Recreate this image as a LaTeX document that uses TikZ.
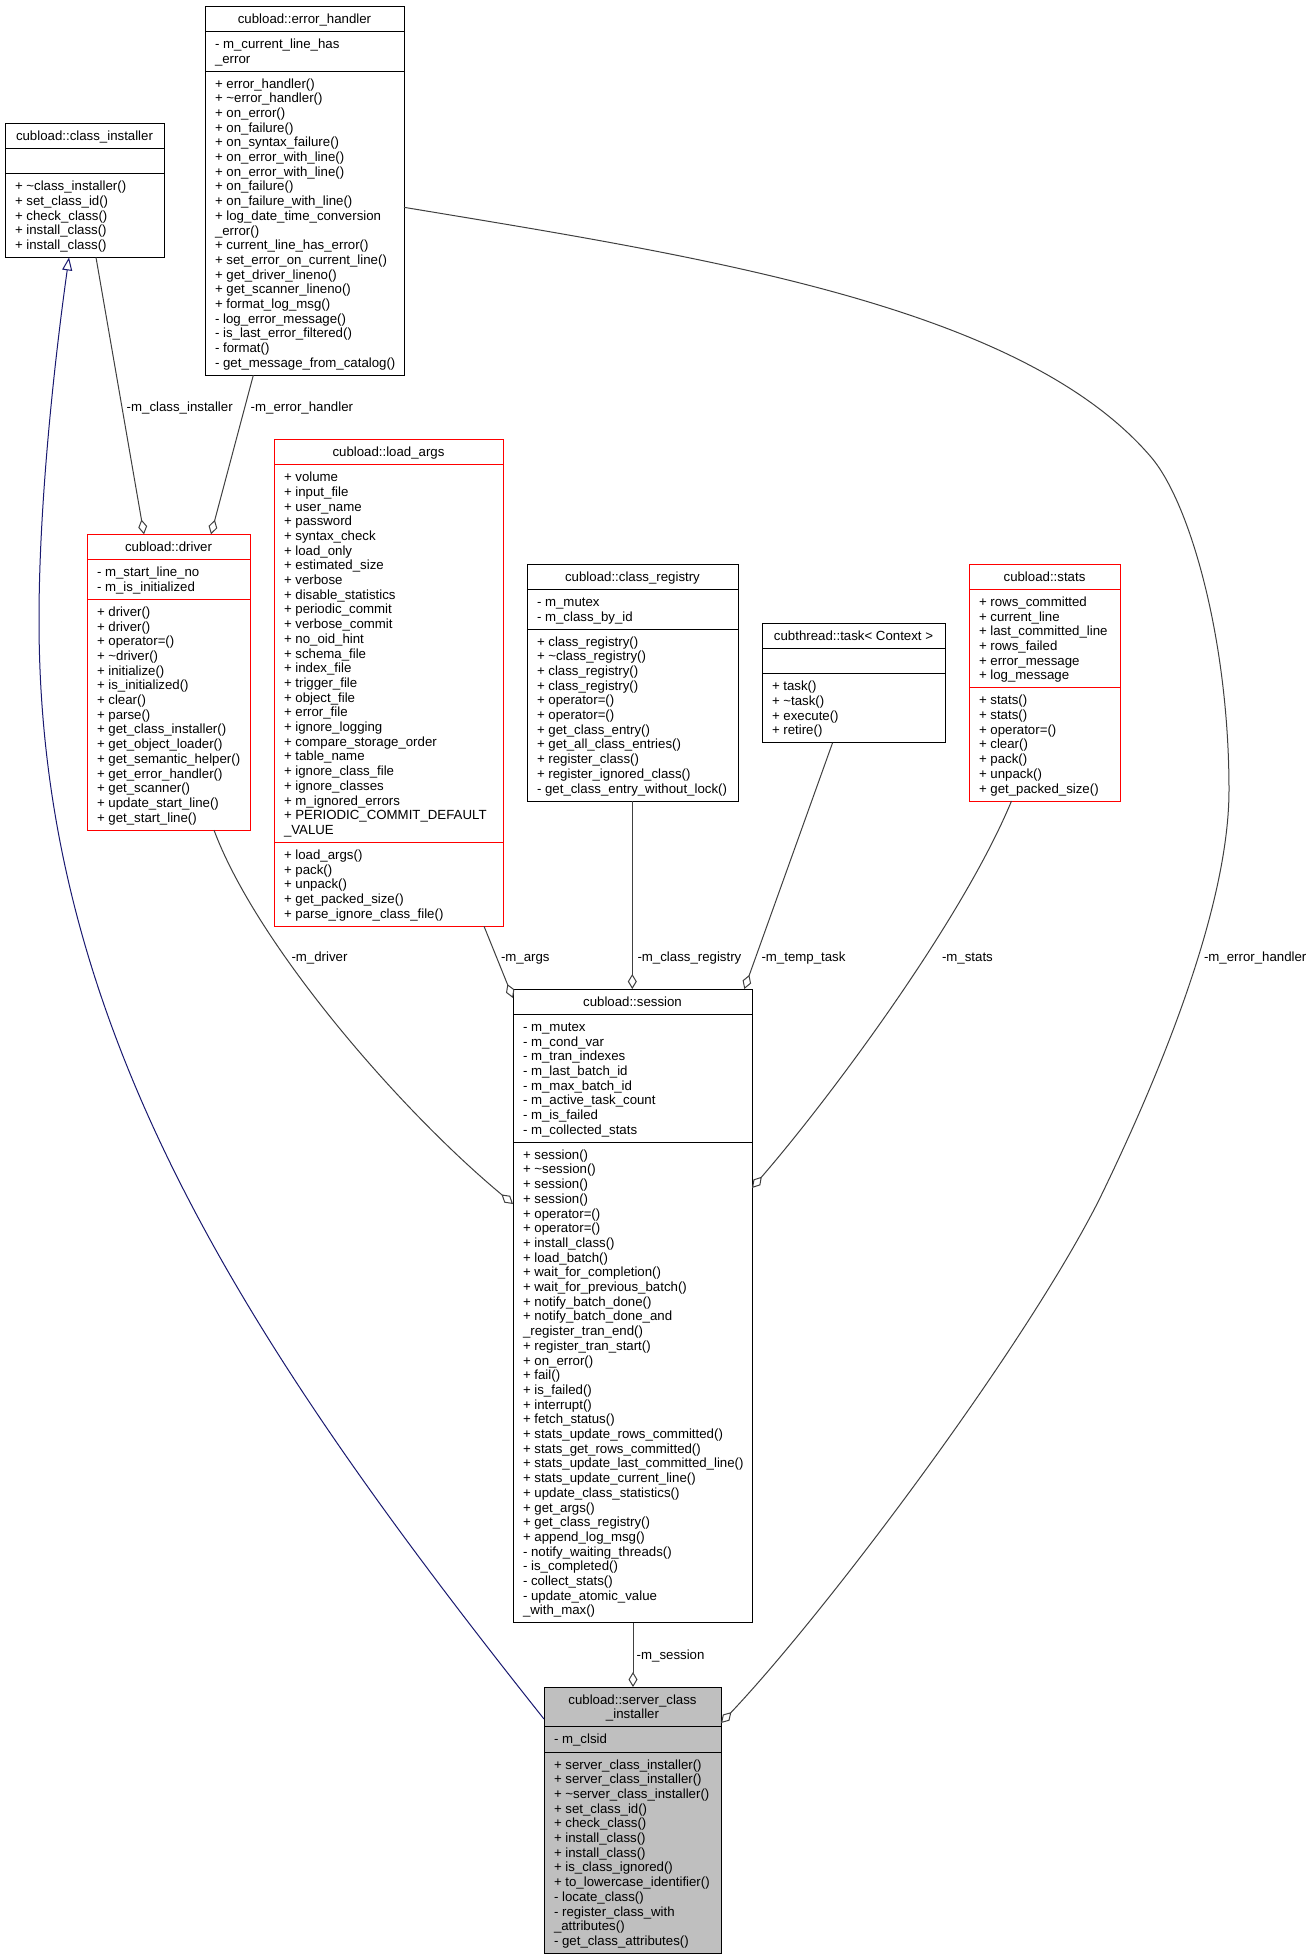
\documentclass[tikz,border=0pt]{standalone}
\usepackage{fontspec}
\setmainfont{Liberation Sans}
\usetikzlibrary{arrows.meta}
\newcommand\cfs{\fontsize{13.25}{14.7}\selectfont}
\newcommand\mystrut{\rule{0pt}{12pt}}
\definecolor{grey25}{HTML}{404040}
\definecolor{mblue}{HTML}{191970}
\definecolor{grey75}{HTML}{BFBFBF}
\begin{document}
\begin{tikzpicture}[x=1pt,y=-1pt,
  cbox/.style={draw, line width=1pt, inner sep=0pt, outer sep=0pt, anchor=north west},
  txt/.style={font=\cfs, inner sep=0pt, outer sep=0pt, align=left, anchor=north west},
  ttl/.style={font=\cfs, inner sep=0pt, outer sep=0pt, align=center, anchor=north},
  sepl/.style={line width=1pt},
  aggr/.style={draw=grey25, line width=1pt, -{Diamond[open,length=15pt,width=9pt]}},
  inh/.style={draw=mblue, line width=1pt, -{Triangle[open,length=13pt,width=10pt]}},
  lbl/.style={font=\cfs, inner sep=0pt, outer sep=0pt, anchor=base west}]
\useasboundingbox (0,0) rectangle (1306,1960);
\fill[white] (0,0) rectangle (1306,1960);

% ---------- class_installer
\node[cbox, draw=black, minimum width=159, minimum height=134.4] (ci) at (5,123) {};
\draw[sepl] (5,148.3) -- (164,148.3);
\draw[sepl] (5,173.6) -- (164,173.6);
\node[ttl] (ci-t) at (84.5,128) {\mystrut cubload::class\_installer};
\node[txt] (ci-m) at (15,178.6) {\mystrut + \textasciitilde class\_installer()\\+ set\_class\_id()\\+ check\_class()\\+ install\_class()\\+ install\_class()};

% ---------- error_handler
\node[cbox, draw=black, minimum width=199, minimum height=369.3] (eh) at (205,6) {};
\draw[sepl] (205,31.3) -- (404,31.3);
\draw[sepl] (205,71) -- (404,71);
\node[ttl] (eh-t) at (304.5,11) {\mystrut cubload::error\_handler};
\node[txt] (eh-a) at (215,36.3) {\mystrut - m\_current\_line\_has\\\_error};
\node[txt] (eh-m) at (215,76) {\mystrut + error\_handler()\\+ \textasciitilde error\_handler()\\+ on\_error()\\+ on\_failure()\\+ on\_syntax\_failure()\\+ on\_error\_with\_line()\\+ on\_error\_with\_line()\\+ on\_failure()\\+ on\_failure\_with\_line()\\+ log\_date\_time\_conversion\\\_error()\\+ current\_line\_has\_error()\\+ set\_error\_on\_current\_line()\\+ get\_driver\_lineno()\\+ get\_scanner\_lineno()\\+ format\_log\_msg()\\- log\_error\_message()\\- is\_last\_error\_filtered()\\- format()\\- get\_message\_from\_catalog()};

% ---------- driver
\node[cbox, draw=red, minimum width=163, minimum height=295.8] (drv) at (87,534.3) {};
\draw[sepl, red] (87,559.6) -- (250,559.6);
\draw[sepl, red] (87,599.3) -- (250,599.3);
\node[ttl] (drv-t) at (168.5,539.3) {\mystrut cubload::driver};
\node[txt] (drv-a) at (97,564.6) {\mystrut - m\_start\_line\_no\\- m\_is\_initialized};
\node[txt] (drv-m) at (97,604.3) {\mystrut + driver()\\+ driver()\\+ operator=()\\+ \textasciitilde driver()\\+ initialize()\\+ is\_initialized()\\+ clear()\\+ parse()\\+ get\_class\_installer()\\+ get\_object\_loader()\\+ get\_semantic\_helper()\\+ get\_error\_handler()\\+ get\_scanner()\\+ update\_start\_line()\\+ get\_start\_line()};

% ---------- load_args
\node[cbox, draw=red, minimum width=229, minimum height=486.9] (la) at (274,439.3) {};
\draw[sepl, red] (274,464.6) -- (503,464.6);
\draw[sepl, red] (274,842.4) -- (503,842.4);
\node[ttl] (la-t) at (388.5,444.3) {\mystrut cubload::load\_args};
\node[txt] (la-a) at (284,469.6) {\mystrut + volume\\+ input\_file\\+ user\_name\\+ password\\+ syntax\_check\\+ load\_only\\+ estimated\_size\\+ verbose\\+ disable\_statistics\\+ periodic\_commit\\+ verbose\_commit\\+ no\_oid\_hint\\+ schema\_file\\+ index\_file\\+ trigger\_file\\+ object\_file\\+ error\_file\\+ ignore\_logging\\+ compare\_storage\_order\\+ table\_name\\+ ignore\_class\_file\\+ ignore\_classes\\+ m\_ignored\_errors\\+ PERIODIC\_COMMIT\_DEFAULT\\\_VALUE};
\node[txt] (la-m) at (284,847.4) {\mystrut + load\_args()\\+ pack()\\+ unpack()\\+ get\_packed\_size()\\+ parse\_ignore\_class\_file()};

% ---------- class_registry
\node[cbox, draw=black, minimum width=211, minimum height=237] (cr) at (527,564) {};
\draw[sepl] (527,589.3) -- (738,589.3);
\draw[sepl] (527,629) -- (738,629);
\node[ttl] (cr-t) at (632.5,569) {\mystrut cubload::class\_registry};
\node[txt] (cr-a) at (537,594.3) {\mystrut - m\_mutex\\- m\_class\_by\_id};
\node[txt] (cr-m) at (537,634) {\mystrut + class\_registry()\\+ \textasciitilde class\_registry()\\+ class\_registry()\\+ class\_registry()\\+ operator=()\\+ operator=()\\+ get\_class\_entry()\\+ get\_all\_class\_entries()\\+ register\_class()\\+ register\_ignored\_class()\\- get\_class\_entry\_without\_lock()};

% ---------- task
\node[cbox, draw=black, minimum width=183, minimum height=119.7] (tk) at (762,623) {};
\draw[sepl] (762,648.3) -- (945,648.3);
\draw[sepl] (762,673.6) -- (945,673.6);
\node[ttl] (tk-t) at (853.5,628) {\mystrut cubthread::task< Context >};
\node[txt] (tk-m) at (772,678.6) {\mystrut + task()\\+ \textasciitilde task()\\+ execute()\\+ retire()};

% ---------- stats
\node[cbox, draw=red, minimum width=151, minimum height=237] (st) at (969,564) {};
\draw[sepl, red] (969,589.3) -- (1120,589.3);
\draw[sepl, red] (969,687.8) -- (1120,687.8);
\node[ttl] (st-t) at (1044.5,569) {\mystrut cubload::stats};
\node[txt] (st-a) at (979,594.3) {\mystrut + rows\_committed\\+ current\_line\\+ last\_committed\_line\\+ rows\_failed\\+ error\_message\\+ log\_message};
\node[txt] (st-m) at (979,692.8) {\mystrut + stats()\\+ stats()\\+ operator=()\\+ clear()\\+ pack()\\+ unpack()\\+ get\_packed\_size()};

% ---------- session
\node[cbox, draw=black, minimum width=239, minimum height=633.9] (ses) at (513,989) {};
\draw[sepl] (513,1014.3) -- (752,1014.3);
\draw[sepl] (513,1142.2) -- (752,1142.2);
\node[ttl] (ses-t) at (632.5,994) {\mystrut cubload::session};
\node[txt] (ses-a) at (523,1019.3) {\mystrut - m\_mutex\\- m\_cond\_var\\- m\_tran\_indexes\\- m\_last\_batch\_id\\- m\_max\_batch\_id\\- m\_active\_task\_count\\- m\_is\_failed\\- m\_collected\_stats};
\node[txt] (ses-m) at (523,1147.2) {\mystrut + session()\\+ \textasciitilde session()\\+ session()\\+ session()\\+ operator=()\\+ operator=()\\+ install\_class()\\+ load\_batch()\\+ wait\_for\_completion()\\+ wait\_for\_previous\_batch()\\+ notify\_batch\_done()\\+ notify\_batch\_done\_and\\\_register\_tran\_end()\\+ register\_tran\_start()\\+ on\_error()\\+ fail()\\+ is\_failed()\\+ interrupt()\\+ fetch\_status()\\+ stats\_update\_rows\_committed()\\+ stats\_get\_rows\_committed()\\+ stats\_update\_last\_committed\_line()\\+ stats\_update\_current\_line()\\+ update\_class\_statistics()\\+ get\_args()\\+ get\_class\_registry()\\+ append\_log\_msg()\\- notify\_waiting\_threads()\\- is\_completed()\\- collect\_stats()\\- update\_atomic\_value\\\_with\_max()};

% ---------- server_class_installer
\node[cbox, draw=black, fill=grey75, minimum width=177, minimum height=266.4] (srv) at (544,1687) {};
\draw[sepl] (544,1726.7) -- (721,1726.7);
\draw[sepl] (544,1752) -- (721,1752);
\node[ttl] (srv-t) at (632.5,1692) {\mystrut cubload::server\_class\\\_installer};
\node[txt] (srv-a) at (554,1731.7) {\mystrut - m\_clsid};
\node[txt] (srv-m) at (554,1757) {\mystrut + server\_class\_installer()\\+ server\_class\_installer()\\+ \textasciitilde server\_class\_installer()\\+ set\_class\_id()\\+ check\_class()\\+ install\_class()\\+ install\_class()\\+ is\_class\_ignored()\\+ to\_lowercase\_identifier()\\- locate\_class()\\- register\_class\_with\\\_attributes()\\- get\_class\_attributes()};

% ---------- connectors
\draw[inh] ([yshift=-32pt]srv.north west) .. controls (234,1329) and (39,1020) .. (39,620)
  .. controls (39,500) and (55,357) .. ([xshift=64pt]ci.south west);
\draw[aggr] ([xshift=91pt]ci.south west) -- ([xshift=57pt]drv.north west);
\draw[aggr] ([xshift=48.3pt]eh.south west) -- ([xshift=124pt]drv.north west);
\draw[aggr] ([xshift=127pt]drv.south west) .. controls (256,943) and (397.5,1108) .. ([yshift=-215pt]ses.north west);
\draw[aggr] ([xshift=210pt]la.south west) -- ([yshift=-9pt]ses.north west);
\draw[aggr] ([xshift=105.3pt]cr.south west) -- ([xshift=119.3pt]ses.north west);
\draw[aggr] ([xshift=70.6pt]tk.south west) -- ([xshift=231.3pt]ses.north west);
\draw[aggr] ([xshift=42.5pt]st.south west) .. controls (960,925) and (824,1105) .. ([yshift=-199pt]ses.north east);
\draw[aggr] ([yshift=-201.3pt]eh.north east) .. controls (700,256.5) and (1021,305) .. (1151,457)
  .. controls (1190,502.6) and (1229,640) .. (1229,790)
  .. controls (1229,910) and (1156,1083) .. (1099,1200)
  .. controls (1022.5,1351.3) and (823,1615.5) .. ([yshift=-36pt]srv.north east);
\draw[aggr] ([xshift=120pt]ses.south west) -- ([xshift=89pt]srv.north west);

% ---------- labels
\node[lbl] (l1) at (126.7,411) {-m\_class\_installer};
\node[lbl] (l2) at (250.7,411) {-m\_error\_handler};
\node[lbl] (l3) at (291.5,961) {-m\_driver};
\node[lbl] (l4) at (501,961) {-m\_args};
\node[lbl] (l5) at (637.5,961) {-m\_class\_registry};
\node[lbl] (l6) at (761.5,961) {-m\_temp\_task};
\node[lbl] (l7) at (942,961) {-m\_stats};
\node[lbl] (l8) at (1204,961) {-m\_error\_handler};
\node[lbl] (l9) at (636.7,1659.5) {-m\_session};
\end{tikzpicture}
\end{document}
